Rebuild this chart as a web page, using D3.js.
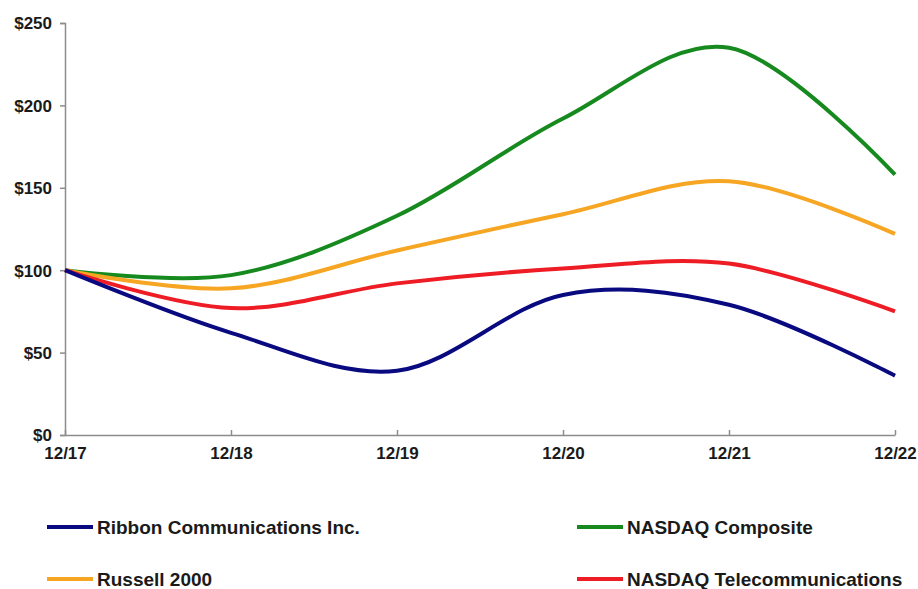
<!DOCTYPE html>
<html>
<head>
<meta charset="utf-8">
<script src="https://cdn.jsdelivr.net/npm/d3@7"></script>
<style>
  body { margin: 0; background: #fff; }
  text { font-family: "Liberation Sans", Arial, sans-serif; font-weight: bold; fill: #1a1a1a; }
</style>
</head>
<body>
<svg id="chart"></svg>
<script>
var width = 918;
var height = 589;

// data (value of $100 invested 12/17)
const years = ['12/17', '12/18', '12/19', '12/20', '12/21', '12/22']
const ribbon = [100, 62, 39, 85, 79, 36]
const nasdaqComp = [100, 97, 133, 192, 235, 158]
const russell = [100, 89, 112, 134, 154, 122]
const nasdaqTelecom = [100, 77, 92, 101, 104, 75]
const yTicks = [0, 50, 100, 150, 200, 250]

const series = [
    { name: 'Ribbon Communications Inc.', values: ribbon, color: '#0a0a80' },
    { name: 'NASDAQ Composite', values: nasdaqComp, color: '#168a1e' },
    { name: 'Russell 2000', values: russell, color: '#f6a623' },
    { name: 'NASDAQ Telecommunications', values: nasdaqTelecom, color: '#ee1c24' }
]

var svg = d3.select('#chart').attr('width', width).attr('height', height)

var x = d3.scalePoint().domain(years).range([65, 895])
var y = d3.scaleLinear().domain([0, 250]).range([435, 23])

// y axis
var yAxis = svg.append('g')
    .attr('transform', 'translate(65,0)')
    .call(d3.axisLeft(y).tickValues(yTicks).tickSize(5).tickPadding(8).tickFormat(d => '$' + d))
yAxis.selectAll('path, line').attr('stroke', '#8c8c8c').attr('stroke-width', 1.5)
yAxis.selectAll('text').style('font-size', '17px').attr('dy', '0.35em')

// x axis, ticks pointing up
var xAxis = svg.append('g')
    .attr('transform', 'translate(0,435)')
    .call(d3.axisBottom(x).tickSizeInner(-5).tickSizeOuter(0).tickPadding(12))
xAxis.selectAll('path, line').attr('stroke', '#8c8c8c').attr('stroke-width', 1.5)
xAxis.selectAll('text').style('font-size', '17px')

var line = d3.line()
    .x((d, i) => x(years[i]))
    .y(d => y(d))
    .curve(d3.curveCardinal.tension(0))

// draw back to front so the blue line sits on top at the start
var drawOrder = [1, 2, 3, 0]
drawOrder.forEach(i => {
    svg.append('path')
        .datum(series[i].values)
        .attr('d', line)
        .attr('fill', 'none')
        .attr('stroke', series[i].color)
        .attr('stroke-width', 4)
})

// legend, two columns by two rows
const legendPos = [
    { x: 47, y: 527 },
    { x: 577, y: 527 },
    { x: 47, y: 579 },
    { x: 577, y: 579 }
]

series.forEach((s, i) => {
    let g = svg.append('g').attr('transform', 'translate(' + legendPos[i].x + ',' + legendPos[i].y + ')')
    g.append('line')
        .attr('x1', 0).attr('x2', 46)
        .attr('stroke', s.color)
        .attr('stroke-width', 4)
    g.append('text')
        .attr('x', 50)
        .attr('dy', '0.35em')
        .style('font-size', '19px')
        .text(s.name)
})
</script>
</body>
</html>
